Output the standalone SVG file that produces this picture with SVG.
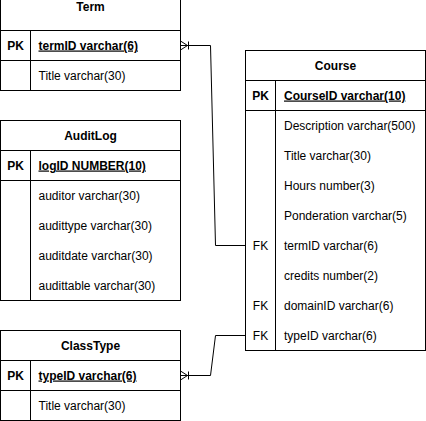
<svg xmlns="http://www.w3.org/2000/svg" width="426" height="421" viewBox="0 0 426 421">
<style>
.box{fill:#fff;stroke:#000;stroke-width:1}
.ln{fill:none;stroke:#000;stroke-width:1}
text{font-family:"Liberation Sans",Arial,Helvetica,sans-serif;font-size:12px;fill:#000}
.t{font-weight:bold;text-anchor:middle}
.k{text-anchor:middle}
.pk{font-weight:bold}
.pkf{font-weight:bold;text-decoration:underline}
</style>
<rect width="426" height="421" fill="#fff"/>
<g id="Term">
<rect class="box" x="0.5" y="-9.5" width="180" height="100"/>
<path class="ln" d="M0.5,30.5H180.5M0.5,60.5H180.5M30.5,30.5V90.5"/>
<text class="t" x="90.5" y="11">Term</text>
<text class="k pk" x="15.5" y="49.5">PK</text>
<text class="pkf" x="38.5" y="49.5">termID varchar(6)</text>
<text x="38.5" y="79.5">Title varchar(30)</text>
</g>
<g id="AuditLog">
<rect class="box" x="0.5" y="120.5" width="180" height="180"/>
<path class="ln" d="M0.5,150.5H180.5M0.5,180.5H180.5M30.5,150.5V300.5"/>
<text class="t" x="90.5" y="140">AuditLog</text>
<text class="k pk" x="15.5" y="169.5">PK</text>
<text class="pkf" x="38.5" y="169.5">logID NUMBER(10)</text>
<text x="38.5" y="199.5">auditor varchar(30)</text>
<text x="38.5" y="229.5">audittype varchar(30)</text>
<text x="38.5" y="259.5">auditdate varchar(30)</text>
<text x="38.5" y="289.5">audittable varchar(30)</text>
</g>
<g id="ClassType">
<rect class="box" x="0.5" y="330.5" width="180" height="90"/>
<path class="ln" d="M0.5,360.5H180.5M0.5,390.5H180.5M30.5,360.5V420.5"/>
<text class="t" x="90.5" y="350">ClassType</text>
<text class="k pk" x="15.5" y="379.5">PK</text>
<text class="pkf" x="38.5" y="379.5">typeID varchar(6)</text>
<text x="38.5" y="409.5">Title varchar(30)</text>
</g>
<g id="Course">
<rect class="box" x="245.5" y="50.5" width="180" height="300"/>
<path class="ln" d="M245.5,80.5H425.5M245.5,110.5H425.5M275.5,80.5V350.5"/>
<text class="t" x="335.5" y="70">Course</text>
<text class="k pk" x="260.5" y="99.5">PK</text>
<text class="pkf" x="284" y="99.5">CourseID varchar(10)</text>
<text x="284" y="129.5">Description varchar(500)</text>
<text x="284" y="159.5">Title varchar(30)</text>
<text x="284" y="189.5">Hours number(3)</text>
<text x="284" y="219.5">Ponderation varchar(5)</text>
<text class="k" x="260.5" y="249.5">FK</text>
<text x="284" y="249.5">termID varchar(6)</text>
<text x="284" y="279.5">credits number(2)</text>
<text class="k" x="260.5" y="309.5">FK</text>
<text x="284" y="309.5">domainID varchar(6)</text>
<text class="k" x="260.5" y="339.5">FK</text>
<text x="284" y="339.5">typeID varchar(6)</text>
</g>
<g id="connectors">
<path class="ln" d="M180.5,45.5H210.5L215.5,245.5H245.5"/>
<path class="ln" d="M180.5,41L187.5,45.5L180.5,50M188.5,41.5V49.5"/>
<path class="ln" d="M180.5,375.5H210.5L215.5,335.5H245.5"/>
<path class="ln" d="M180.5,371L187.5,375.5L180.5,380M188.5,371.5V379.5"/>
</g>
</svg>
